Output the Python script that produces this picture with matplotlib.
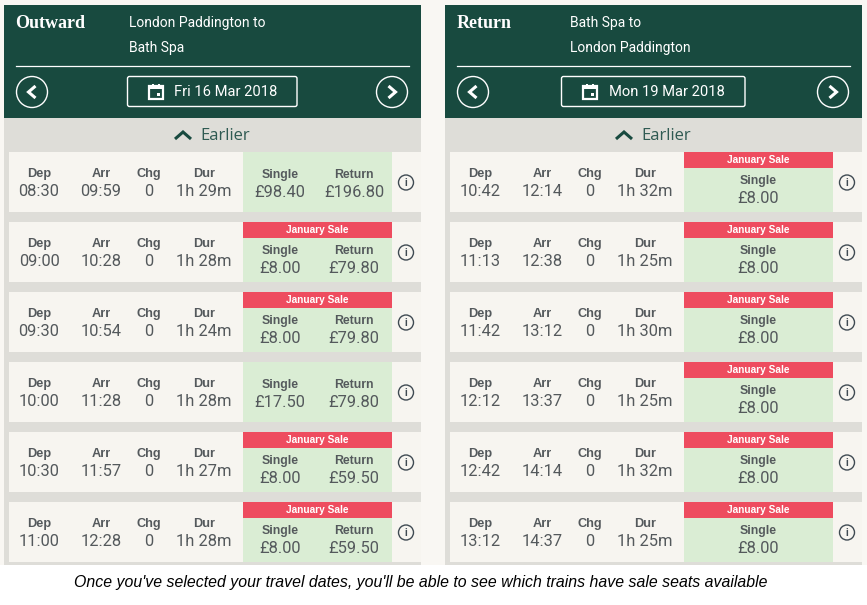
import matplotlib
matplotlib.use("Agg")
import matplotlib.pyplot as plt
from matplotlib.patches import Rectangle, Circle, FancyBboxPatch

plt.rcParams["font.family"] = ["Roboto", "DejaVu Sans"]

GREEN = "#184a3f"
GREY = "#deddd8"
CREAM = "#f7f5f0"
PALE = "#daedd4"
RED = "#ee4c5f"
INK = "#54595c"
BOLD_FONT = ["Liberation Sans", "DejaVu Sans"]

# outward journey
out_dep = ["08:30", "09:00", "09:30", "10:00", "10:30", "11:00"]
out_arr = ["09:59", "10:28", "10:54", "11:28", "11:57", "12:28"]
out_chg = ["0", "0", "0", "0", "0", "0"]
out_dur = ["1h 29m", "1h 28m", "1h 24m", "1h 28m", "1h 27m", "1h 28m"]
out_single = ["£98.40", "£8.00", "£8.00", "£17.50", "£8.00", "£8.00"]
out_return = ["£196.80", "£79.80", "£79.80", "£79.80", "£59.50", "£59.50"]
out_sale = [False, True, True, False, True, True]

# return journey
ret_dep = ["10:42", "11:13", "11:42", "12:12", "12:42", "13:12"]
ret_arr = ["12:14", "12:38", "13:12", "13:37", "14:14", "14:37"]
ret_chg = ["0", "0", "0", "0", "0", "0"]
ret_dur = ["1h 32m", "1h 25m", "1h 30m", "1h 25m", "1h 32m", "1h 25m"]
ret_single = ["£8.00", "£8.00", "£8.00", "£8.00", "£8.00", "£8.00"]
ret_sale = [True, True, True, True, True, True]

caption = "Once you've selected your travel dates, you'll be able to see which trains have sale seats available"

fig = plt.figure(figsize=(8.67, 6.05), dpi=100)
ax = fig.add_axes([0, 0, 1, 1])
ax.set_xlim(0, 867)
ax.set_ylim(605, 0)
ax.axis("off")


def rect(x, y, w, h, color):
    ax.add_patch(Rectangle((x, y), w, h, facecolor=color, edgecolor="none"))


def label(x, y, s, size, color=INK, weight="normal", **kw):
    # y is the text baseline, so letters with descenders stay in line
    kw.setdefault("ha", "center")
    ax.text(x, y, s, fontsize=size, color=color, fontweight=weight, va="baseline", **kw)


def arrow(xs, ys, lw=2.2, color="white"):
    ax.plot(xs, ys, color=color, lw=lw, solid_capstyle="butt", solid_joinstyle="miter")


def panel(x0, title, origin, dest, date, box, icon_x, date_x, deps, arrs, chgs, durs, singles, returns, sale):
    # header
    rect(x0, 5, 417, 113, GREEN)
    rect(x0, 118, 417, 447, GREY)
    label(x0 + 11.5, 28.5, title, 13, "white", "bold", ha="left", family=["Liberation Serif", "DejaVu Serif"])
    label(x0 + 125, 27, origin, 10, "white", ha="left")
    label(x0 + 125, 52, dest, 10, "white", ha="left")
    ax.plot([x0 + 12, x0 + 405], [65.5, 65.5], color="white", lw=0.9)

    # prev / next buttons
    for cx, sign in [(x0 + 28, -1), (x0 + 388, 1)]:
        ax.add_patch(Circle((cx, 92), 15.5, facecolor="none", edgecolor="white", lw=1))
        arrow([cx - 3.5 * sign, cx + 3.5 * sign, cx - 3.5 * sign], [86, 92, 98])

    # date box
    ax.add_patch(FancyBboxPatch((box[0] + 0.5, 76.5), box[1] - 0.5, 30, boxstyle="round,pad=0,rounding_size=2",
                                mutation_aspect=1, facecolor="none", edgecolor="white", lw=1,
                                transform=ax.transData))
    ax.add_patch(Rectangle((icon_x + 1, 86), 13.5, 12.5, facecolor="none", edgecolor="white", lw=1.6))
    rect(icon_x + 1, 85, 13.5, 3.5, "white")
    rect(icon_x + 4, 83.5, 1.6, 2, "white")
    rect(icon_x + 10, 83.5, 1.6, 2, "white")
    rect(icon_x + 9, 93, 3, 3, "white")
    label(date_x, 96.5, date, 10.6, "white", ha="left")

    # earlier
    arrow([x0 + 171, x0 + 179, x0 + 187], [139, 132, 139], 2.2, GREEN)
    label(x0 + 196.5, 140, "Earlier", 12, "#2f5a52", ha="left", family=["Open Sans", "DejaVu Sans"])

    # rows
    for i in range(len(deps)):
        top = 152 + 70 * i
        rect(x0 + 5, top, 412, 60, CREAM)
        rect(x0 + 239, top, 149, 60, PALE)
        for cx, head, val in [(x0 + 35, "Dep", deps[i]), (x0 + 97, "Arr", arrs[i]),
                              (x0 + 144.5, "Chg", chgs[i]), (x0 + 200, "Dur", durs[i])]:
            label(cx, top + 25, head, 9.2, INK, "bold", family=BOLD_FONT)
            label(cx, top + 44, val, 11.9, INK)
        shift = 6 if sale[i] or returns is None else 0
        if sale[i]:
            rect(x0 + 239, top, 149, 16, RED)
            label(x0 + 313.5, top + 11, "January Sale", 7.3, "white", "bold", family=BOLD_FONT)
        if returns is None:
            label(x0 + 313.5, top + 26 + shift, "Single", 8.8, INK, "bold", family=BOLD_FONT)
            label(x0 + 313.5, top + 45 + shift, singles[i], 11.9, INK)
        else:
            label(x0 + 276, top + 26 + shift, "Single", 8.8, INK, "bold", family=BOLD_FONT)
            label(x0 + 276, top + 45 + shift, singles[i], 11.9, INK)
            label(x0 + 350, top + 26 + shift, "Return", 8.8, INK, "bold", family=BOLD_FONT)
            label(x0 + 350, top + 45 + shift, returns[i], 11.9, INK)
        # info icon
        ax.add_patch(Circle((x0 + 402, top + 30.5), 7.5, facecolor="none", edgecolor="#3f4a52", lw=1))
        label(x0 + 402, top + 34.5, "i", 7.5, "#3f4a52", "bold")


rect(0, 0, 867, 565, "#f9f7f3")
panel(4, "Outward", "London Paddington to", "Bath Spa", "Fri 16 Mar 2018", (127, 170), 148, 174,
      out_dep, out_arr, out_chg, out_dur, out_single, out_return, out_sale)
panel(445, "Return", "Bath Spa to", "London Paddington", "Mon 19 Mar 2018", (561, 184), 582, 609,
      ret_dep, ret_arr, ret_chg, ret_dur, ret_single, None, ret_sale)

ax.text(420.5, 587, caption, fontsize=11.4, style="italic", color="black", ha="center", va="baseline",
        family=["Liberation Sans", "DejaVu Sans"])

fig.savefig("out.png", dpi=100, facecolor="white")
